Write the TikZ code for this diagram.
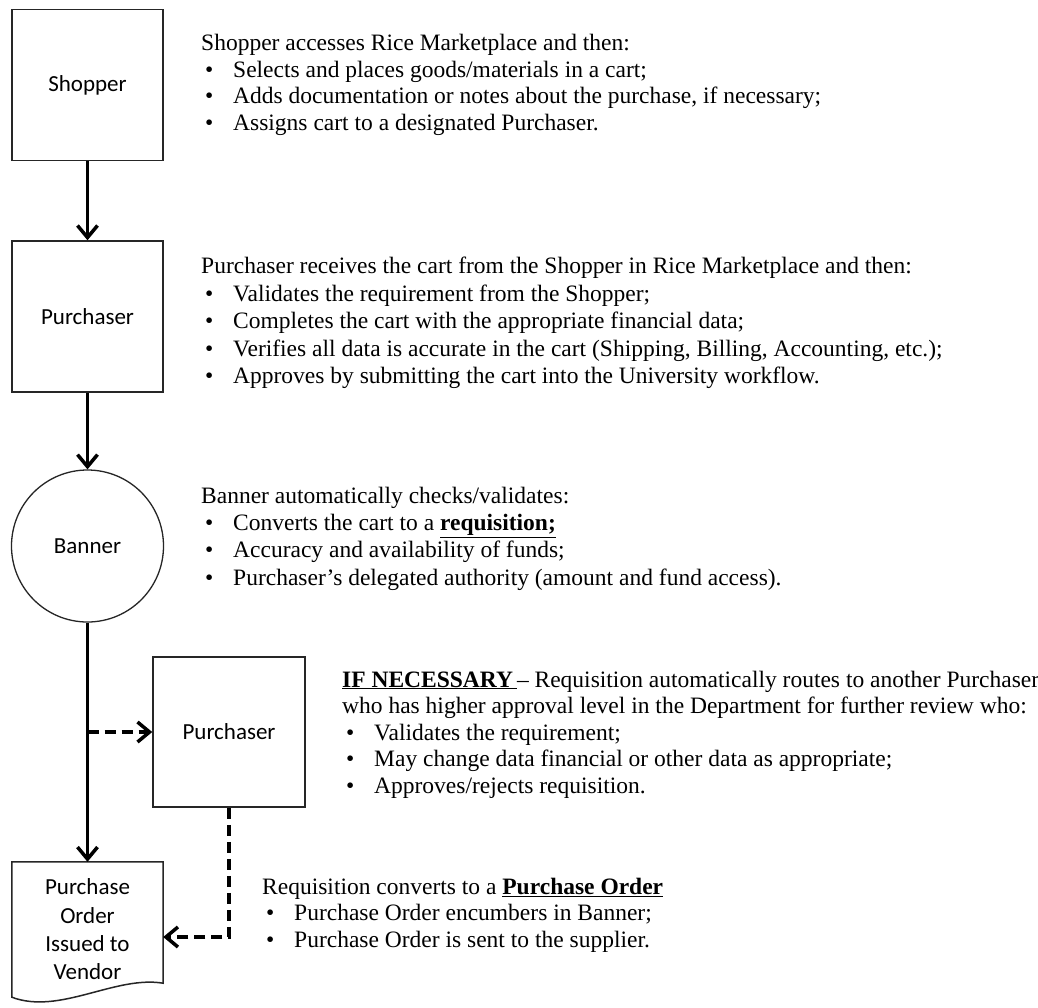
\documentclass[tikz,border=0pt]{standalone}
\usepackage{fontspec}
\setmainfont{Liberation Serif}
\newfontfamily\lblfont{Carlito}
\usetikzlibrary{arrows.meta}
\newcommand\bul[4]{%
  \node[txt] (#1b) at ({#2+4},#3) {\textbullet};
  \node[txt] (#1) at ({#2+32},#3) {#4};}
\begin{document}
\begin{tikzpicture}[x=1pt,y=-1pt,
  box/.style={draw=black!85, line width=1.5pt, minimum width=151pt, minimum height=151pt,
    inner sep=0pt, font=\lblfont\fontsize{23}{28}\selectfont, align=center},
  txt/.style={anchor=base west, inner sep=0pt, font=\fontsize{23.5}{27}\selectfont},
  flow/.style={line width=3.5pt, -{Straight Barb[length=12pt,width=20pt]}},
  dflow/.style={flow, dash pattern=on 11pt off 6pt}]
\path[use as bounding box, fill=white] (0,0) rectangle (1038,1007);

% shapes
\node[box] (shop) at (87.5,85) {Shopper};
\node[box] (purch) at (87.5,316.5) {Purchaser};
\node[circle, draw=black!85, line width=1.3pt, minimum size=152pt, inner sep=0pt,
  font=\lblfont\fontsize{23}{28}\selectfont] (ban) at (87.5,546) {Banner};
\node[box, minimum width=152pt, minimum height=150pt] (purch2) at (229,732) {Purchaser};
\node[inner sep=0pt, minimum width=151pt, minimum height=135pt, align=center,
  font=\lblfont\fontsize{23}{28.3}\selectfont] (po) at (87.5,929.5)
  {Purchase\\Order\\Issued to\\Vendor};
\draw[black!85, line width=1.5pt] (po.north west) -- (po.north east)
  -- ([yshift=14pt]po.south east)
  .. controls ([xshift=-48pt,yshift=22pt]po.south east) and ([xshift=48pt,yshift=-18pt]po.south west)
  .. (po.south west) -- cycle;

% connectors
\coordinate (br) at (87.5,732);
\draw[flow] (shop) -- (purch);
\draw[flow] (purch) -- (ban);
\draw[flow] (ban.south) -- (po.north);
\draw[dflow] (br) -- (purch2.west);
\draw[dflow] (purch2.south) |- ([yshift=-7.5pt]po.east);

% Shopper text
\node[txt] (t1) at (201,50.5) {Shopper accesses Rice Marketplace and then:};
\bul{t1a}{201}{77}{Selects and places goods/materials in a cart;}
\bul{t1c}{201}{103.5}{Adds documentation or notes about the purchase, if necessary;}
\bul{t1d}{201}{130}{Assigns cart to a designated Purchaser.}

% Purchaser text
\node[txt] (t2) at (201,273.5) {Purchaser receives the cart from the Shopper in Rice Marketplace and then:};
\bul{t2a}{201}{301}{Validates the requirement from the Shopper;}
\bul{t2c}{201}{328.5}{Completes the cart with the appropriate financial data;}
\bul{t2d}{201}{356}{Verifies all data is accurate in the cart (Shipping, Billing, Accounting, etc.);}
\bul{t2e}{201}{383.5}{Approves by submitting the cart into the University workflow.}

% Banner text
\node[txt] (t3) at (201,503) {Banner automatically checks/validates:};
\bul{t3a}{201}{530.3}{Converts the cart to a \underline{\textbf{requisition;}}}
\bul{t3c}{201}{557.6}{Accuracy and availability of funds;}
\bul{t3d}{201}{585}{Purchaser’s delegated authority (amount and fund access).}

% If necessary text
\node[txt] (t4) at (342,687) {\underline{\textbf{IF NECESSARY}\,}-- Requisition automatically routes to another Purchaser};
\node[txt] (t4w) at (342,713.5) {who has higher approval level in the Department for further review who:};
\bul{t4a}{342}{740}{Validates the requirement;}
\bul{t4c}{342}{766.5}{May change data financial or other data as appropriate;}
\bul{t4d}{342}{793}{Approves/rejects requisition.}

% Requisition text
\node[txt] (t5) at (262,894) {Requisition converts to a \underline{\textbf{Purchase Order}}};
\bul{t5a}{262}{920.5}{Purchase Order encumbers in Banner;}
\bul{t5c}{262}{947}{Purchase Order is sent to the supplier.}
\end{tikzpicture}
\end{document}
